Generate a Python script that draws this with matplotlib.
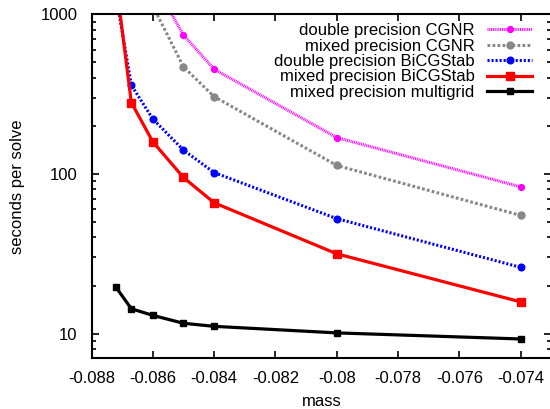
import numpy as np
import matplotlib
matplotlib.use("Agg")
import matplotlib.pyplot as plt
from matplotlib.ticker import FixedLocator, FormatStrFormatter, LogLocator, NullFormatter

plt.rcParams['font.family'] = ['Liberation Sans', 'DejaVu Sans']
plt.rcParams['axes.unicode_minus'] = False
plt.rcParams['lines.scale_dashes'] = False

# masses (x) and timings (seconds per solve)
mass_all = [-0.0872, -0.0867, -0.086, -0.085, -0.084, -0.080, -0.074]
mass_cg = [-0.086, -0.085, -0.084, -0.080, -0.074]

double_cgnr = [1620, 742, 453, 169, 83]
mixed_cgnr = [1130, 469, 305, 113, 55]
double_bicg = [1310, 360, 221, 141, 102, 52.5, 26]
mixed_bicg = [1600, 280, 159, 95, 66, 31.6, 15.8]
mixed_mg = [19.5, 14.3, 13.0, 11.6, 11.1, 10.1, 9.25]

xticks = [-0.088, -0.086, -0.084, -0.082, -0.080, -0.078, -0.076, -0.074]

fig = plt.figure(figsize=(5.5, 4.09), dpi=100)
ax = fig.add_axes([91.5 / 550, 1 - 358.3 / 409, 459.8 / 550, (358.3 - 14.3) / 409])

ax.plot(mass_cg, double_cgnr, color='#ff00ff', lw=2.2, dashes=(0.7, 0.6),
        marker='o', ms=4.2, label='double precision CGNR')
ax.plot(mass_cg, mixed_cgnr, color='#888888', lw=2.2, dashes=(2.0, 1.6),
        marker='o', ms=5.0, label='mixed precision CGNR')
ax.plot(mass_all, double_bicg, color='#0000ff', lw=2.2, dashes=(1.5, 1.4),
        marker='o', ms=4.8, label='double precision BiCGStab')
ax.plot(mass_all, mixed_bicg, color='#ff0000', lw=2.3,
        marker='s', ms=6.0, label='mixed precision BiCGStab')
ax.plot(mass_all, mixed_mg, color='black', lw=2.3,
        marker='s', ms=4.2, label='mixed precision multigrid')

ax.set_yscale('log')
ax.set_xlim(-0.088, -0.073)
ax.set_ylim(7.0, 1000)
ax.xaxis.set_major_locator(FixedLocator(xticks))
ax.xaxis.set_major_formatter(FormatStrFormatter('%g'))
ax.yaxis.set_major_locator(FixedLocator([10, 100, 1000]))
ax.yaxis.set_major_formatter(FormatStrFormatter('%g'))
ax.yaxis.set_minor_locator(LogLocator(base=10, subs=np.arange(2, 10)))
ax.yaxis.set_minor_formatter(NullFormatter())

ax.tick_params(which='both', direction='in', top=True, right=True,
               labelsize=12, width=1.2)
ax.tick_params(which='major', length=5)
ax.tick_params(axis='x', which='major', pad=9)
ax.tick_params(axis='y', which='major', pad=10)
ax.tick_params(which='minor', length=3)
for s in ax.spines.values():
    s.set_linewidth(1.5)

ax.set_xlabel('mass', fontsize=12, labelpad=6)
ax.set_ylabel('seconds per solve', fontsize=12, labelpad=11)

ax.legend(loc='upper right', bbox_to_anchor=(532 / 550, 1 - 23 / 409),
          bbox_transform=fig.transFigure, frameon=False, markerfirst=False,
          numpoints=1, handlelength=2.7, handletextpad=0.75, labelspacing=0.03,
          fontsize=12, borderpad=0, borderaxespad=0)

fig.savefig('out.png', dpi=100)
